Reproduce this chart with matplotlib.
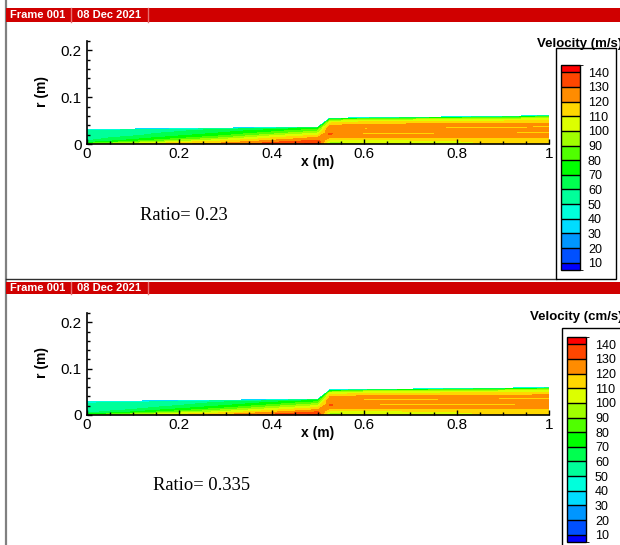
import matplotlib
matplotlib.use("Agg")
import matplotlib.pyplot as plt
import matplotlib.colorbar as mcolorbar
from matplotlib.colors import ListedColormap, BoundaryNorm
from matplotlib.patches import Rectangle
from matplotlib.lines import Line2D
import numpy as np

plt.rcParams["font.family"] = ["Liberation Sans", "DejaVu Sans"]

# ---- data ----
x_stations = [0.0, 0.1, 0.2, 0.3, 0.4, 0.5, 0.526, 0.6, 0.7, 0.8, 0.9, 1.0]
eta_stations = [0.0, 0.1, 0.2, 0.3, 0.4, 0.5, 0.6, 0.7, 0.8, 0.88, 0.95, 1.0]

wall_r_top = [0.031, 0.032, 0.033, 0.034, 0.035, 0.036, 0.055, 0.056, 0.057, 0.058, 0.059, 0.061]
wall_r_bottom = [0.029, 0.030, 0.031, 0.032, 0.033, 0.034, 0.054, 0.055, 0.056, 0.057, 0.058, 0.059]

# velocity, one row per x station, from axis (eta=0) to wall (eta=1)
vel_top = [
    [92, 70, 61, 57, 56, 55, 55, 54, 54, 53, 48, 30],
    [108, 92, 78, 70, 65, 61, 58, 57, 56, 55, 50, 30],
    [118, 110, 95, 85, 77, 71, 66, 63, 60, 58, 53, 30],
    [125, 118, 110, 100, 90, 82, 76, 71, 67, 64, 57, 30],
    [135, 130, 122, 115, 108, 100, 90, 82, 76, 70, 62, 35],
    [142, 138, 132, 126, 120, 112, 105, 96, 88, 80, 70, 40],
    [92, 100, 112, 126, 131, 124, 128, 122, 112, 100, 80, 40],
    [98, 104, 112, 125, 118, 125, 118, 125, 116, 106, 88, 40],
    [102, 106, 114, 125, 118, 125, 118, 125, 115, 105, 86, 40],
    [106, 109, 115, 125, 118, 125, 118, 125, 115, 104, 85, 40],
    [112, 113, 116, 125, 118, 125, 118, 124, 114, 104, 84, 40],
    [115, 115, 117, 124, 118, 124, 118, 123, 114, 103, 84, 40],
]
vel_bottom = [
    [88, 65, 57, 54, 53, 52, 52, 51, 51, 50, 46, 30],
    [104, 86, 72, 65, 60, 57, 55, 54, 53, 52, 47, 30],
    [115, 105, 90, 80, 72, 66, 62, 59, 57, 55, 50, 30],
    [123, 115, 105, 95, 86, 78, 72, 67, 63, 60, 53, 30],
    [133, 127, 118, 110, 102, 94, 86, 78, 72, 66, 58, 32],
    [142, 137, 130, 123, 116, 108, 100, 92, 84, 76, 66, 38],
    [92, 100, 112, 126, 131, 124, 128, 122, 112, 100, 80, 40],
    [98, 104, 112, 125, 118, 125, 118, 125, 116, 106, 88, 40],
    [102, 106, 114, 125, 118, 125, 118, 125, 115, 105, 86, 40],
    [106, 109, 115, 125, 118, 125, 118, 125, 115, 104, 85, 40],
    [112, 113, 116, 125, 118, 125, 118, 124, 114, 104, 84, 40],
    [115, 115, 117, 124, 118, 124, 118, 123, 114, 103, 84, 40],
]

contour_levels = [0, 10, 20, 30, 40, 50, 60, 70, 80, 90, 100, 110, 120, 130, 140, 200]
legend_bounds = [5, 10, 20, 30, 40, 50, 60, 70, 80, 90, 100, 110, 120, 130, 140, 145]
legend_ticks = [10, 20, 30, 40, 50, 60, 70, 80, 90, 100, 110, 120, 130, 140]
legend_colors = ["#0000FF", "#0050FF", "#0096FF", "#00DCFF", "#00FFDC", "#00FF9A",
                 "#00FF50", "#00FF00", "#50FF00", "#A0FF00", "#DCFF00", "#FFD700",
                 "#FF8C00", "#FF4600", "#FF0000"]
x_ticks = [0, 0.2, 0.4, 0.6, 0.8, 1.0]
x_ticklabels = ["0", "0.2", "0.4", "0.6", "0.8", "1"]
y_ticks = [0, 0.1, 0.2]
y_ticklabels = ["0", "0.1", "0.2"]
ratios = ["Ratio= 0.23", "Ratio= 0.335"]
legend_titles = ["Velocity (m/s)", "Velocity (cm/s)"]
frame_labels = ["Frame 001", "08 Dec 2021"]

W, H = 620, 545
fig = plt.figure(figsize=(W / 100, H / 100), dpi=100)


def fx(px):
    return px / W


def fy(py):
    return 1 - py / H


def box(x0, y0, x1, y1):
    return [fx(x0), fy(y1), (x1 - x0) / W, (y1 - y0) / H]


# left frame border
fig.add_artist(Line2D([fx(6), fx(6)], [0, 1], color="#808080", lw=1.6))
# bottom border of top frame
fig.add_artist(Line2D([fx(6), fx(556)], [fy(279), fy(279)], color="#303030", lw=1.0))

panels = [
    dict(head=(8, 22), ax=(87, 41, 549, 144), ratio=(140, 215),
         title=(537, 44), lbox=(556, 48, 616, 279), bar=(561, 65, 580, 270), lab=588,
         wall=wall_r_top, vel=vel_top),
    dict(head=(282, 294), ax=(87, 313, 549, 415), ratio=(153, 486),
         title=(530, 317), lbox=(562, 328, 640, 560), bar=(567, 337, 586, 542), lab=595,
         wall=wall_r_bottom, vel=vel_bottom),
]

cmap = ListedColormap(legend_colors)
norm = BoundaryNorm(legend_bounds, len(legend_colors))

for i, p in enumerate(panels):
    # header bar
    h0, h1 = p["head"]
    fig.add_artist(Rectangle((fx(6), fy(h1)), 1 - fx(6), (h1 - h0) / H,
                             transform=fig.transFigure, facecolor="#D00000",
                             edgecolor="none", zorder=5))
    for sx in (71, 148):
        fig.add_artist(Line2D([fx(sx), fx(sx)], [fy(h1), fy(h0)], color="#E87070",
                              lw=1.0, zorder=6))
    hc = fy((h0 + h1) / 2)
    fig.text(fx(10), hc, frame_labels[0], color="white", fontsize=8, fontweight="bold",
             va="center", ha="left", zorder=7)
    fig.text(fx(77), hc, frame_labels[1], color="white", fontsize=8, fontweight="bold",
             va="center", ha="left", zorder=7)

    # flow field
    ax = fig.add_axes(box(*p["ax"]))
    xs = np.array(x_stations)
    eta = np.array(eta_stations)
    X = np.repeat(xs[:, None], len(eta), axis=1)
    Y = eta[None, :] * np.array(p["wall"])[:, None]
    ax.contourf(X, Y, np.array(p["vel"]), levels=contour_levels, colors=legend_colors)
    ax.set_xlim(0, 1)
    ax.set_ylim(0, 0.22)
    for s in ("top", "right"):
        ax.spines[s].set_visible(False)
    for s in ("left", "bottom"):
        ax.spines[s].set_linewidth(1.2)
    ax.set_xticks(x_ticks)
    ax.set_xticklabels(x_ticklabels)
    ax.set_yticks(y_ticks)
    ax.set_yticklabels(y_ticklabels)
    ax.set_xticks(np.arange(0, 1.0001, 0.05), minor=True)
    ax.set_yticks(np.arange(0, 0.2201, 0.02), minor=True)
    ax.tick_params(which="both", direction="in", labelsize=11, width=1)
    ax.tick_params(which="major", length=3.5)
    ax.tick_params(which="minor", length=2)
    ax.tick_params(axis="x", pad=2)
    ax.tick_params(axis="y", pad=4)

    ax_x0, ax_y0, ax_x1, ax_y1 = p["ax"]
    fig.text(fx(42), fy((ax_y0 + ax_y1) / 2 - 1), "r (m)", rotation=90, fontsize=10,
             fontweight="bold", ha="center", va="center")
    fig.text(fx(318), fy(ax_y1 + 18), "x (m)", fontsize=10, fontweight="bold",
             ha="center", va="center")
    fig.text(fx(p["ratio"][0]), fy(p["ratio"][1]), ratios[i], fontsize=13.3,
             family=["Liberation Serif", "DejaVu Serif"], ha="left", va="center")

    # legend
    lx0, ly0, lx1, ly1 = p["lbox"]
    fig.add_artist(Rectangle((fx(lx0), fy(ly1)), (lx1 - lx0) / W, (ly1 - ly0) / H,
                             transform=fig.transFigure, facecolor="none",
                             edgecolor="black", lw=1.0, zorder=3))
    fig.text(fx(p["title"][0]), fy(p["title"][1]), legend_titles[i], fontsize=9.5,
             fontweight="bold", ha="left", va="center")
    cax = fig.add_axes(box(*p["bar"]))
    cb = mcolorbar.ColorbarBase(cax, cmap=cmap, norm=norm, boundaries=legend_bounds,
                                spacing="proportional", ticks=legend_ticks,
                                drawedges=True)
    cb.outline.set_linewidth(1.0)
    cb.dividers.set_linewidth(1.0)
    cax.tick_params(length=0, labelsize=9, pad=(p["lab"] - p["bar"][2]) * 0.72)

fig.savefig("out.png", dpi=100)
